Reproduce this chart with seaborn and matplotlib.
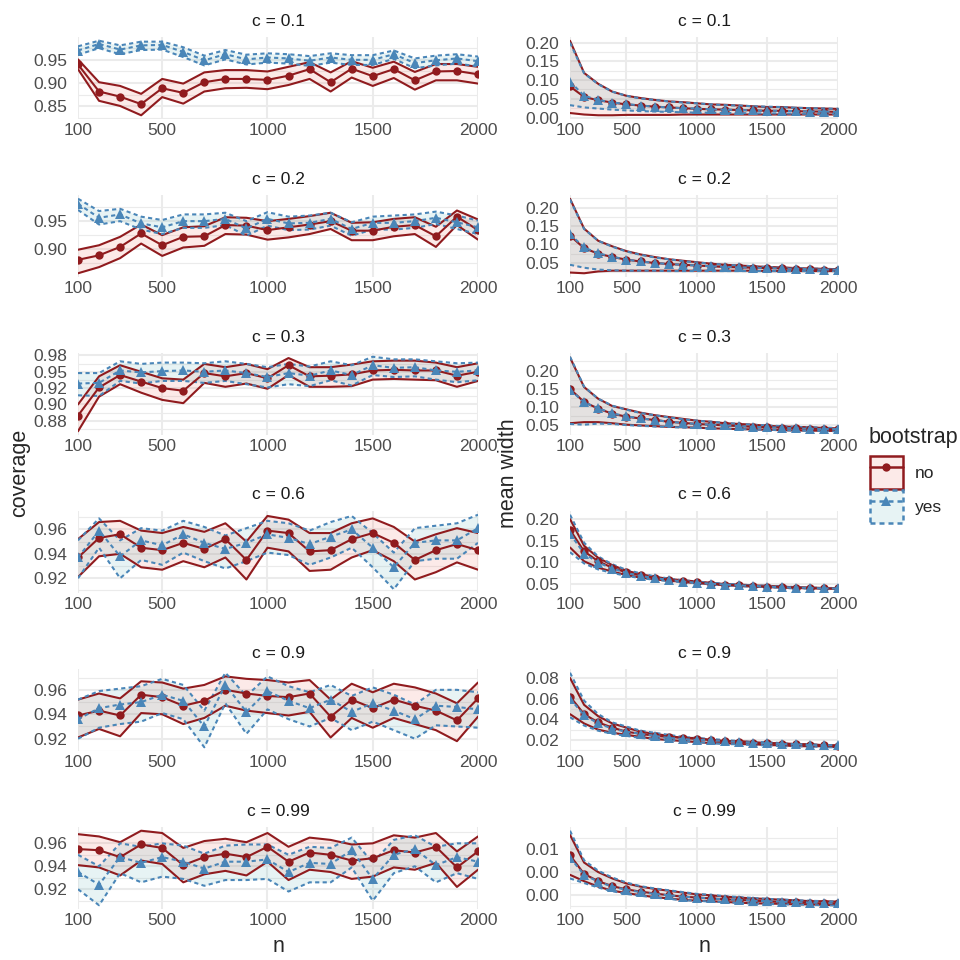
import matplotlib
matplotlib.use("Agg")
from matplotlib import pyplot as plt
from matplotlib.lines import Line2D
from matplotlib.patches import Patch
from matplotlib.legend_handler import HandlerTuple
from matplotlib.ticker import AutoMinorLocator
from matplotlib.colors import to_rgba
import seaborn as sns
import pandas as pd

# ---- data ----
n_values = [100, 200, 300, 400, 500, 600, 700, 800, 900, 1000,
            1100, 1200, 1300, 1400, 1500, 1600, 1700, 1800, 1900, 2000]
c_labels = ["0.1", "0.2", "0.3", "0.6", "0.9", "0.99"]

cov_no_mid = [
    [0.940, 0.882, 0.871, 0.855, 0.889, 0.879, 0.902, 0.909, 0.909, 0.907, 0.916, 0.930, 0.902, 0.931, 0.915, 0.930, 0.906, 0.925, 0.926, 0.919],
    [0.881, 0.889, 0.904, 0.928, 0.907, 0.922, 0.923, 0.943, 0.942, 0.934, 0.939, 0.944, 0.950, 0.933, 0.933, 0.940, 0.943, 0.923, 0.958, 0.934],
    [0.883, 0.926, 0.945, 0.935, 0.925, 0.921, 0.948, 0.943, 0.948, 0.940, 0.960, 0.943, 0.944, 0.946, 0.952, 0.953, 0.952, 0.952, 0.944, 0.950],
    [0.937, 0.953, 0.956, 0.945, 0.943, 0.949, 0.944, 0.952, 0.935, 0.959, 0.957, 0.942, 0.943, 0.952, 0.957, 0.949, 0.935, 0.943, 0.948, 0.943],
    [0.939, 0.943, 0.939, 0.956, 0.954, 0.947, 0.951, 0.960, 0.957, 0.955, 0.954, 0.957, 0.938, 0.952, 0.945, 0.952, 0.947, 0.943, 0.935, 0.953],
    [0.955, 0.954, 0.948, 0.959, 0.956, 0.941, 0.948, 0.951, 0.948, 0.957, 0.944, 0.952, 0.950, 0.945, 0.947, 0.954, 0.952, 0.957, 0.939, 0.953],
]
cov_no_hi = [
    [0.951, 0.902, 0.894, 0.877, 0.909, 0.899, 0.923, 0.928, 0.928, 0.925, 0.935, 0.945, 0.923, 0.947, 0.933, 0.946, 0.924, 0.941, 0.941, 0.935],
    [0.899, 0.907, 0.922, 0.944, 0.925, 0.939, 0.941, 0.957, 0.956, 0.950, 0.954, 0.959, 0.965, 0.947, 0.948, 0.954, 0.957, 0.940, 0.969, 0.953],
    [0.900, 0.943, 0.960, 0.950, 0.940, 0.938, 0.962, 0.957, 0.962, 0.954, 0.971, 0.957, 0.957, 0.961, 0.966, 0.967, 0.967, 0.964, 0.957, 0.963],
    [0.952, 0.966, 0.967, 0.959, 0.957, 0.962, 0.958, 0.965, 0.950, 0.971, 0.968, 0.957, 0.957, 0.965, 0.969, 0.962, 0.950, 0.956, 0.961, 0.957],
    [0.952, 0.957, 0.953, 0.967, 0.966, 0.961, 0.964, 0.971, 0.969, 0.968, 0.966, 0.968, 0.952, 0.965, 0.958, 0.965, 0.962, 0.957, 0.949, 0.966],
    [0.968, 0.966, 0.961, 0.971, 0.969, 0.956, 0.962, 0.964, 0.961, 0.969, 0.957, 0.965, 0.963, 0.959, 0.960, 0.967, 0.965, 0.969, 0.953, 0.966],
]
cov_no_lo = [
    [0.930, 0.862, 0.851, 0.831, 0.870, 0.856, 0.882, 0.889, 0.890, 0.887, 0.896, 0.909, 0.882, 0.912, 0.894, 0.911, 0.886, 0.906, 0.906, 0.899],
    [0.857, 0.868, 0.884, 0.910, 0.888, 0.903, 0.906, 0.927, 0.926, 0.917, 0.921, 0.927, 0.936, 0.916, 0.916, 0.923, 0.927, 0.904, 0.943, 0.917],
    [0.859, 0.912, 0.931, 0.918, 0.907, 0.902, 0.933, 0.927, 0.932, 0.924, 0.945, 0.927, 0.927, 0.928, 0.938, 0.939, 0.938, 0.937, 0.927, 0.936],
    [0.921, 0.938, 0.940, 0.929, 0.927, 0.934, 0.929, 0.937, 0.919, 0.945, 0.942, 0.926, 0.927, 0.937, 0.943, 0.934, 0.919, 0.925, 0.933, 0.927],
    [0.921, 0.928, 0.922, 0.941, 0.940, 0.932, 0.937, 0.947, 0.943, 0.941, 0.939, 0.942, 0.921, 0.937, 0.929, 0.937, 0.932, 0.927, 0.918, 0.938],
    [0.941, 0.939, 0.932, 0.945, 0.942, 0.926, 0.933, 0.936, 0.932, 0.944, 0.928, 0.937, 0.935, 0.929, 0.931, 0.939, 0.937, 0.943, 0.922, 0.937],
]
cov_yes_mid = [
    [0.970, 0.984, 0.972, 0.981, 0.982, 0.967, 0.949, 0.962, 0.951, 0.955, 0.953, 0.948, 0.955, 0.950, 0.950, 0.962, 0.943, 0.949, 0.953, 0.947],
    [0.981, 0.956, 0.962, 0.946, 0.939, 0.950, 0.950, 0.954, 0.937, 0.954, 0.946, 0.947, 0.954, 0.936, 0.947, 0.947, 0.950, 0.956, 0.948, 0.939],
    [0.932, 0.933, 0.952, 0.949, 0.951, 0.952, 0.950, 0.952, 0.948, 0.942, 0.948, 0.944, 0.952, 0.945, 0.960, 0.956, 0.957, 0.952, 0.950, 0.952],
    [0.937, 0.959, 0.938, 0.951, 0.947, 0.956, 0.949, 0.944, 0.949, 0.956, 0.953, 0.948, 0.954, 0.960, 0.945, 0.929, 0.949, 0.951, 0.951, 0.961],
    [0.936, 0.945, 0.948, 0.950, 0.956, 0.951, 0.930, 0.964, 0.942, 0.959, 0.951, 0.945, 0.952, 0.942, 0.949, 0.943, 0.936, 0.947, 0.946, 0.944],
    [0.935, 0.924, 0.948, 0.943, 0.948, 0.944, 0.938, 0.944, 0.944, 0.946, 0.935, 0.943, 0.942, 0.954, 0.929, 0.950, 0.955, 0.941, 0.948, 0.944],
]
cov_yes_hi = [
    [0.979, 0.991, 0.981, 0.989, 0.989, 0.977, 0.959, 0.971, 0.961, 0.964, 0.962, 0.958, 0.964, 0.960, 0.960, 0.970, 0.953, 0.959, 0.962, 0.957],
    [0.990, 0.968, 0.972, 0.958, 0.952, 0.962, 0.962, 0.965, 0.950, 0.966, 0.958, 0.960, 0.965, 0.948, 0.958, 0.960, 0.962, 0.967, 0.960, 0.951],
    [0.948, 0.948, 0.966, 0.962, 0.964, 0.964, 0.963, 0.966, 0.962, 0.957, 0.962, 0.958, 0.966, 0.960, 0.973, 0.969, 0.969, 0.966, 0.963, 0.964],
    [0.951, 0.969, 0.951, 0.961, 0.959, 0.967, 0.962, 0.955, 0.961, 0.967, 0.965, 0.959, 0.966, 0.971, 0.957, 0.941, 0.961, 0.963, 0.965, 0.972],
    [0.952, 0.959, 0.961, 0.963, 0.969, 0.964, 0.943, 0.974, 0.955, 0.971, 0.963, 0.958, 0.964, 0.955, 0.962, 0.956, 0.948, 0.960, 0.960, 0.958],
    [0.950, 0.940, 0.960, 0.957, 0.960, 0.958, 0.951, 0.958, 0.959, 0.959, 0.950, 0.957, 0.956, 0.965, 0.943, 0.963, 0.967, 0.957, 0.960, 0.960],
]
cov_yes_lo = [
    [0.961, 0.975, 0.962, 0.971, 0.972, 0.956, 0.938, 0.951, 0.940, 0.944, 0.942, 0.937, 0.944, 0.939, 0.939, 0.952, 0.932, 0.938, 0.942, 0.936],
    [0.970, 0.944, 0.950, 0.935, 0.927, 0.938, 0.938, 0.943, 0.924, 0.942, 0.934, 0.935, 0.942, 0.924, 0.935, 0.935, 0.938, 0.945, 0.936, 0.927],
    [0.914, 0.913, 0.936, 0.932, 0.936, 0.936, 0.933, 0.936, 0.931, 0.926, 0.931, 0.928, 0.937, 0.929, 0.945, 0.942, 0.943, 0.938, 0.934, 0.937],
    [0.920, 0.945, 0.920, 0.935, 0.931, 0.941, 0.934, 0.928, 0.934, 0.941, 0.939, 0.931, 0.937, 0.945, 0.929, 0.911, 0.934, 0.936, 0.936, 0.949],
    [0.920, 0.929, 0.932, 0.934, 0.941, 0.936, 0.913, 0.949, 0.924, 0.944, 0.936, 0.930, 0.937, 0.927, 0.934, 0.927, 0.920, 0.931, 0.930, 0.929],
    [0.920, 0.906, 0.934, 0.926, 0.931, 0.929, 0.923, 0.928, 0.928, 0.929, 0.918, 0.926, 0.926, 0.939, 0.910, 0.934, 0.940, 0.926, 0.934, 0.929],
]

wid_no_hi = [
    [0.205, 0.119, 0.090, 0.069, 0.058, 0.052, 0.047, 0.043, 0.041, 0.038, 0.035, 0.034, 0.032, 0.030, 0.028, 0.028, 0.026, 0.025, 0.024, 0.023],
    [0.224, 0.143, 0.110, 0.095, 0.082, 0.073, 0.066, 0.060, 0.056, 0.052, 0.048, 0.045, 0.043, 0.041, 0.039, 0.038, 0.036, 0.035, 0.034, 0.033],
    [0.236, 0.155, 0.123, 0.103, 0.094, 0.085, 0.078, 0.073, 0.068, 0.063, 0.060, 0.056, 0.054, 0.052, 0.049, 0.047, 0.046, 0.045, 0.043, 0.042],
    [0.200, 0.138, 0.110, 0.093, 0.080, 0.072, 0.066, 0.061, 0.058, 0.055, 0.052, 0.049, 0.048, 0.046, 0.045, 0.043, 0.042, 0.041, 0.040, 0.039],
    [0.080, 0.054, 0.043, 0.036, 0.032, 0.028, 0.026, 0.024, 0.022, 0.022, 0.020, 0.019, 0.019, 0.018, 0.017, 0.017, 0.016, 0.016, 0.015, 0.015],
    [0.0132, 0.0071, 0.0050, 0.0036, 0.0025, 0.0018, 0.0013, 0.0009, 0.0005, 0.0001, -0.0001, -0.0004, -0.0006, -0.0008, -0.0009, -0.0011, -0.0012, -0.0014, -0.0014, -0.0015],
]
wid_no_mid = [
    [0.083, 0.055, 0.046, 0.040, 0.035, 0.032, 0.029, 0.027, 0.025, 0.023, 0.022, 0.021, 0.020, 0.019, 0.018, 0.018, 0.017, 0.016, 0.016, 0.015],
    [0.124, 0.090, 0.075, 0.066, 0.059, 0.054, 0.050, 0.047, 0.045, 0.043, 0.041, 0.039, 0.038, 0.037, 0.036, 0.035, 0.034, 0.033, 0.032, 0.032],
    [0.150, 0.114, 0.096, 0.082, 0.074, 0.069, 0.065, 0.060, 0.057, 0.054, 0.052, 0.050, 0.048, 0.046, 0.045, 0.044, 0.042, 0.041, 0.040, 0.039],
    [0.175, 0.125, 0.102, 0.087, 0.076, 0.069, 0.064, 0.059, 0.056, 0.053, 0.050, 0.048, 0.046, 0.045, 0.043, 0.043, 0.041, 0.040, 0.039, 0.039],
    [0.062, 0.045, 0.037, 0.032, 0.028, 0.026, 0.024, 0.023, 0.022, 0.021, 0.020, 0.019, 0.018, 0.017, 0.017, 0.016, 0.016, 0.015, 0.015, 0.014],
    [0.0087, 0.0046, 0.0030, 0.0019, 0.0012, 0.0007, 0.0003, -0.0001, -0.0004, -0.0006, -0.0008, -0.0010, -0.0011, -0.0013, -0.0014, -0.0016, -0.0016, -0.0018, -0.0019, -0.0019],
]
wid_no_lo = [
    [0.012, 0.008, 0.006, 0.006, 0.007, 0.007, 0.007, 0.007, 0.008, 0.008, 0.008, 0.008, 0.008, 0.008, 0.008, 0.008, 0.008, 0.008, 0.008, 0.008],
    [0.024, 0.022, 0.027, 0.029, 0.029, 0.029, 0.029, 0.029, 0.029, 0.029, 0.029, 0.029, 0.029, 0.029, 0.028, 0.028, 0.028, 0.028, 0.028, 0.028],
    [0.056, 0.059, 0.059, 0.056, 0.052, 0.050, 0.048, 0.046, 0.045, 0.044, 0.042, 0.041, 0.040, 0.039, 0.038, 0.037, 0.036, 0.036, 0.035, 0.035],
    [0.134, 0.102, 0.087, 0.078, 0.070, 0.064, 0.060, 0.057, 0.054, 0.051, 0.049, 0.046, 0.045, 0.043, 0.042, 0.041, 0.040, 0.039, 0.039, 0.038],
    [0.045, 0.036, 0.030, 0.027, 0.025, 0.023, 0.021, 0.020, 0.019, 0.018, 0.017, 0.017, 0.016, 0.016, 0.015, 0.015, 0.014, 0.014, 0.014, 0.013],
    [0.0044, 0.0030, 0.0018, 0.0009, 0.0004, -0.0001, -0.0005, -0.0008, -0.0011, -0.0013, -0.0014, -0.0016, -0.0017, -0.0019, -0.0019, -0.0020, -0.0021, -0.0021, -0.0022, -0.0023],
]
wid_yes_hi = [
    [0.200, 0.118, 0.089, 0.069, 0.058, 0.051, 0.047, 0.043, 0.040, 0.038, 0.035, 0.033, 0.032, 0.030, 0.029, 0.028, 0.026, 0.025, 0.024, 0.023],
    [0.222, 0.142, 0.110, 0.094, 0.081, 0.072, 0.065, 0.060, 0.055, 0.051, 0.048, 0.045, 0.043, 0.041, 0.039, 0.037, 0.036, 0.035, 0.034, 0.033],
    [0.238, 0.156, 0.123, 0.104, 0.093, 0.084, 0.078, 0.072, 0.067, 0.063, 0.060, 0.057, 0.054, 0.052, 0.050, 0.048, 0.046, 0.045, 0.044, 0.043],
    [0.210, 0.145, 0.113, 0.095, 0.082, 0.074, 0.067, 0.062, 0.058, 0.055, 0.052, 0.050, 0.048, 0.046, 0.045, 0.044, 0.042, 0.041, 0.040, 0.040],
    [0.085, 0.058, 0.045, 0.037, 0.033, 0.029, 0.027, 0.025, 0.023, 0.022, 0.021, 0.020, 0.019, 0.018, 0.018, 0.017, 0.016, 0.016, 0.015, 0.015],
    [0.0141, 0.0076, 0.0053, 0.0038, 0.0027, 0.0019, 0.0014, 0.0010, 0.0006, 0.0002, 0.0000, -0.0003, -0.0005, -0.0007, -0.0009, -0.0010, -0.0012, -0.0013, -0.0014, -0.0015],
]
wid_yes_mid = [
    [0.096, 0.058, 0.047, 0.040, 0.036, 0.032, 0.029, 0.027, 0.025, 0.024, 0.022, 0.021, 0.020, 0.019, 0.018, 0.018, 0.017, 0.016, 0.016, 0.015],
    [0.128, 0.092, 0.076, 0.067, 0.059, 0.054, 0.050, 0.047, 0.045, 0.043, 0.041, 0.039, 0.038, 0.037, 0.036, 0.035, 0.034, 0.033, 0.032, 0.032],
    [0.148, 0.113, 0.097, 0.083, 0.075, 0.069, 0.065, 0.060, 0.057, 0.054, 0.052, 0.050, 0.048, 0.046, 0.045, 0.044, 0.042, 0.041, 0.040, 0.040],
    [0.166, 0.120, 0.099, 0.085, 0.075, 0.068, 0.063, 0.059, 0.055, 0.052, 0.050, 0.048, 0.046, 0.045, 0.043, 0.042, 0.041, 0.040, 0.039, 0.039],
    [0.060, 0.044, 0.036, 0.031, 0.028, 0.026, 0.024, 0.022, 0.021, 0.020, 0.020, 0.019, 0.018, 0.017, 0.017, 0.016, 0.016, 0.015, 0.015, 0.015],
    [0.0082, 0.0044, 0.0029, 0.0018, 0.0011, 0.0006, 0.0002, -0.0001, -0.0004, -0.0006, -0.0008, -0.0010, -0.0011, -0.0013, -0.0014, -0.0015, -0.0016, -0.0017, -0.0018, -0.0019],
]
wid_yes_lo = [
    [0.033, 0.027, 0.024, 0.021, 0.019, 0.017, 0.016, 0.015, 0.014, 0.013, 0.013, 0.012, 0.012, 0.011, 0.011, 0.011, 0.010, 0.010, 0.010, 0.010],
    [0.045, 0.037, 0.032, 0.030, 0.029, 0.029, 0.029, 0.028, 0.028, 0.028, 0.028, 0.028, 0.028, 0.028, 0.028, 0.028, 0.028, 0.028, 0.028, 0.028],
    [0.054, 0.052, 0.055, 0.054, 0.051, 0.049, 0.047, 0.046, 0.044, 0.043, 0.042, 0.041, 0.040, 0.039, 0.038, 0.037, 0.036, 0.035, 0.035, 0.034],
    [0.123, 0.097, 0.083, 0.075, 0.068, 0.063, 0.059, 0.056, 0.053, 0.051, 0.048, 0.046, 0.044, 0.043, 0.042, 0.040, 0.039, 0.039, 0.038, 0.037],
    [0.042, 0.034, 0.029, 0.026, 0.024, 0.022, 0.021, 0.020, 0.019, 0.018, 0.017, 0.016, 0.016, 0.015, 0.015, 0.014, 0.014, 0.014, 0.013, 0.013],
    [0.0036, 0.0026, 0.0016, 0.0008, 0.0002, -0.0002, -0.0006, -0.0009, -0.0012, -0.0013, -0.0015, -0.0016, -0.0018, -0.0019, -0.0020, -0.0021, -0.0021, -0.0022, -0.0023, -0.0023],
]

x_ticks = [100, 500, 1000, 1500, 2000]
cov_ticks = [[0.85, 0.90, 0.95], [0.90, 0.95], [0.875, 0.90, 0.925, 0.95, 0.975],
             [0.92, 0.94, 0.96], [0.92, 0.94, 0.96], [0.92, 0.94, 0.96]]
cov_tick_labels = [["0.85", "0.90", "0.95"], ["0.90", "0.95"],
                   ["0.88", "0.90", "0.92", "0.95", "0.98"],
                   ["0.92", "0.94", "0.96"], ["0.92", "0.94", "0.96"], ["0.92", "0.94", "0.96"]]
wid_ticks = [[0.0, 0.05, 0.10, 0.15, 0.20], [0.05, 0.10, 0.15, 0.20], [0.05, 0.10, 0.15, 0.20],
             [0.05, 0.10, 0.15, 0.20], [0.02, 0.04, 0.06, 0.08], [0.0, 0.005, 0.01]]
wid_tick_labels = [["0.00", "0.05", "0.10", "0.15", "0.20"], ["0.05", "0.10", "0.15", "0.20"],
                   ["0.05", "0.10", "0.15", "0.20"], ["0.05", "0.10", "0.15", "0.20"],
                   ["0.02", "0.04", "0.06", "0.08"], ["0.00", "0.00", "0.01"]]

# ---- style ----
sns.set_style("white")
plt.rcParams["font.family"] = ["Liberation Sans", "DejaVu Sans"]

red = "#901B1E"
blue = "#4A86B8"
fill_no = "#F08070"
fill_yes = "#6AB8BC"
fill_alpha = 0.16
dots = (0, (2, 1.6))
grid_col = "#EBEBEB"

W = H = 960
fig = plt.figure(figsize=(9.6, 9.6), dpi=100)

col_x = [(78, 478), (570, 838)]
row_top = [37 + 158 * i for i in range(6)]
panel_h = 82


def panel(ax, lo_no, mid_no, hi_no, lo_yes, mid_yes, hi_yes, ticks, labels, title):
    ax.fill_between(n_values, lo_no, hi_no, color=fill_no, alpha=fill_alpha, lw=0, zorder=1)
    ax.fill_between(n_values, lo_yes, hi_yes, color=fill_yes, alpha=fill_alpha, lw=0, zorder=1)
    for b in (lo_no, hi_no):
        ax.plot(n_values, b, color=red, lw=1.5, zorder=2)
    for b in (lo_yes, hi_yes):
        ax.plot(n_values, b, color=blue, lw=1.5, ls=dots, zorder=2.5)

    df = pd.DataFrame({
        "n": n_values + n_values,
        "value": mid_no + mid_yes,
        "bootstrap": ["no"] * len(n_values) + ["yes"] * len(n_values),
    })
    sns.lineplot(data=df, x="n", y="value", hue="bootstrap", style="bootstrap",
                 markers={"no": "o", "yes": "^"}, dashes={"no": "", "yes": (2, 1.6)},
                 palette={"no": red, "yes": blue}, lw=1.5, markersize=6,
                 markeredgewidth=0, legend=False, ax=ax, zorder=3)
    ax.lines[-1].set_markersize(7.5)

    lo = min(min(lo_no), min(lo_yes))
    hi = max(max(hi_no), max(hi_yes))
    pad = 0.05 * (hi - lo)
    ax.set_xlim(100, 2000)
    ax.set_ylim(lo - pad, hi + pad)
    ax.set_xticks(x_ticks)
    ax.set_xticklabels([str(v) for v in x_ticks])
    ax.set_yticks(ticks)
    ax.set_yticklabels(labels)
    ax.yaxis.set_minor_locator(AutoMinorLocator(2))
    ax.grid(which="major", color=grid_col, lw=1.5)
    ax.grid(which="minor", axis="y", color=grid_col, lw=0.8)
    ax.set_axisbelow(True)
    for s in ax.spines.values():
        s.set_visible(False)
    ax.tick_params(which="both", length=0, labelsize=12.5, labelcolor="#4D4D4D")
    ax.tick_params(axis="y", pad=7.5)
    ax.tick_params(axis="x", pad=3)
    ax.set_xlabel("")
    ax.set_ylabel("")
    ax.text(0.5, 1 + 16 / panel_h, f"c = {title}", transform=ax.transAxes,
            ha="center", va="center", fontsize=12.5, color="#1A1A1A")


for i, c in enumerate(c_labels):
    for j in range(2):
        x0, x1 = col_x[j]
        ax = fig.add_axes([x0 / W, 1 - (row_top[i] + panel_h) / H, (x1 - x0) / W, panel_h / H])
        if j == 0:
            panel(ax, cov_no_lo[i], cov_no_mid[i], cov_no_hi[i],
                  cov_yes_lo[i], cov_yes_mid[i], cov_yes_hi[i],
                  cov_ticks[i], cov_tick_labels[i], c)
        else:
            panel(ax, wid_no_lo[i], wid_no_mid[i], wid_no_hi[i],
                  wid_yes_lo[i], wid_yes_mid[i], wid_yes_hi[i],
                  wid_ticks[i], wid_tick_labels[i], c)

fig.text(20 / W, 1 - 473 / H, "coverage", rotation=90, ha="center", va="center", fontsize=15.5)
fig.text(508 / W, 1 - 473 / H, "mean width", rotation=90, ha="center", va="center", fontsize=15.5)
fig.text(278 / W, 1 - 947 / H, "n", ha="center", va="center", fontsize=15.5)
fig.text(704 / W, 1 - 947 / H, "n", ha="center", va="center", fontsize=15.5)

# legend: title drawn as text, keys below it
fig.text(869 / W, 1 - 437 / H, "bootstrap", ha="left", va="center", fontsize=15.5)
handles = [
    (Patch(facecolor=to_rgba(fill_no, fill_alpha), edgecolor=red, lw=1.8),
     Line2D([], [], color=red, lw=1.8, marker="o", markersize=6, markeredgewidth=0)),
    (Patch(facecolor=to_rgba(fill_yes, fill_alpha), edgecolor=blue, lw=1.8, ls=dots),
     Line2D([], [], color=blue, lw=1.8, ls=dots, marker="^", markersize=7.5, markeredgewidth=0)),
]
fig.legend(handles, ["no", "yes"], loc="upper left", bbox_to_anchor=(870 / W, 1 - 456 / H),
           frameon=False, fontsize=12.5,
           handlelength=1.9, handleheight=2.55, labelspacing=0.05, handletextpad=0.7,
           borderpad=0, borderaxespad=0,
           handler_map={tuple: HandlerTuple(ndivide=1)})

fig.savefig("out.png", dpi=100, facecolor="white")
